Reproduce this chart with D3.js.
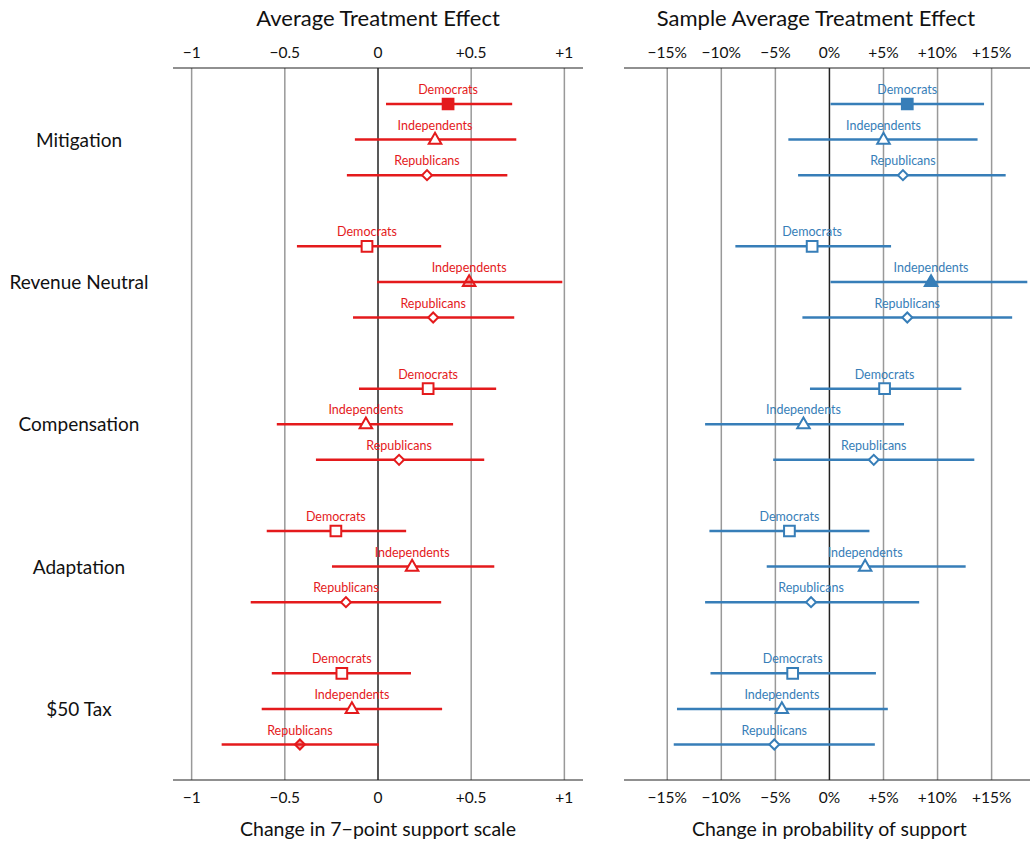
<!DOCTYPE html>
<html>
<head>
<meta charset="utf-8">
<script src="https://cdn.jsdelivr.net/npm/d3@7"></script>
<style>
  body { margin: 0; background: #fff; }
  text { font-family: Lato, "Open Sans", sans-serif; }
</style>
</head>
<body>
<svg id="chart" width="1035" height="843"></svg>
<script>
// Treatments (top to bottom) and party groups within each
const treatments = ["Mitigation", "Revenue Neutral", "Compensation", "Adaptation", "$50 Tax"];
const parties = ["Democrats", "Independents", "Republicans"];

// Left panel: ATE on 7-point support scale (rows: treatment x party)
const ateEst = [0.376, 0.306, 0.263, -0.059, 0.489, 0.296, 0.269, -0.065, 0.113, -0.226, 0.183, -0.172, -0.194, -0.140, -0.419];
const ateLo  = [0.043, -0.124, -0.167, -0.435, -0.005, -0.134, -0.102, -0.543, -0.333, -0.597, -0.247, -0.683, -0.570, -0.624, -0.839];
const ateHi  = [0.720, 0.742, 0.694, 0.339, 0.989, 0.731, 0.634, 0.403, 0.570, 0.151, 0.624, 0.339, 0.177, 0.344, 0.005];
const ateFill = ["solid", "none", "none", "none", "light", "none", "none", "none", "none", "none", "none", "none", "none", "none", "light"];

// Right panel: SATE on probability of support
const sateEst = [0.072, 0.050, 0.068, -0.016, 0.094, 0.072, 0.051, -0.024, 0.041, -0.037, 0.033, -0.017, -0.034, -0.044, -0.051];
const sateLo  = [0.001, -0.038, -0.029, -0.087, 0.001, -0.025, -0.018, -0.115, -0.052, -0.111, -0.058, -0.115, -0.110, -0.141, -0.144];
const sateHi  = [0.143, 0.137, 0.163, 0.057, 0.183, 0.169, 0.122, 0.069, 0.134, 0.037, 0.126, 0.083, 0.043, 0.054, 0.042];
const sateFill = ["solid", "none", "none", "none", "solid", "none", "none", "none", "none", "none", "none", "none", "none", "none", "none"];

const ateTicks = [-1, -0.5, 0, 0.5, 1];
const ateTickLabels = ["\u22121", "\u22120.5", "0", "+0.5", "+1"];
const sateTicks = [-0.15, -0.10, -0.05, 0, 0.05, 0.10, 0.15];
const sateTickLabels = ["\u221215%", "\u221210%", "\u22125%", "0%", "+5%", "+10%", "+15%"];

const svg = d3.select("#chart");
const yTop = 68, yBottom = 780;

// y position: group g, party p -> g*4 + p
const yScale = d3.scaleLinear().domain([0, 18]).range([104, 744.5]);

const rows = [];
treatments.forEach((t, g) => parties.forEach((p, k) => rows.push({ g, k, party: p, idx: g * 3 + k, pos: g * 4 + k })));

const shapes = [d3.symbolSquare, d3.symbolTriangle, d3.symbolSquare];
const sizes = [115, 68, 50];

function panel(cfg) {
  const x = d3.scaleLinear().domain(cfg.domain).range(cfg.range);
  const g = svg.append("g");
  const light = d3.color(cfg.color).copy({ opacity: 0.4 });

  // title
  g.append("text").attr("x", cfg.titleX).attr("y", 26).attr("text-anchor", "middle")
    .attr("font-size", 22).attr("fill", "#111").text(cfg.title);

  // grid lines
  g.selectAll(".grid").data(cfg.ticks).enter().append("line")
    .attr("x1", d => x(d)).attr("x2", d => x(d))
    .attr("y1", yTop).attr("y2", yBottom)
    .attr("stroke", d => d === 0 ? "#222" : "#999")
    .attr("stroke-width", 1.5);

  // axis lines
  [yTop, yBottom].forEach(yy => g.append("line")
    .attr("x1", cfg.range[0]).attr("x2", cfg.range[1])
    .attr("y1", yy).attr("y2", yy).attr("stroke", "#222").attr("stroke-width", 1.2));

  // tick labels
  g.selectAll(".tt").data(cfg.ticks).enter().append("text")
    .attr("x", d => x(d)).attr("y", 58).attr("text-anchor", "middle")
    .attr("font-size", 15.5).attr("fill", "#111").text((d, i) => cfg.tickLabels[i]);
  g.selectAll(".tb").data(cfg.ticks).enter().append("text")
    .attr("x", d => x(d)).attr("y", 803).attr("text-anchor", "middle")
    .attr("font-size", 15.5).attr("fill", "#111").text((d, i) => cfg.tickLabels[i]);

  // x label
  g.append("text").attr("x", x(0)).attr("y", 836).attr("text-anchor", "middle")
    .attr("font-size", 19.5).attr("fill", "#111").text(cfg.xlabel);

  // CI lines
  g.selectAll(".ci").data(rows).enter().append("line")
    .attr("x1", d => x(cfg.lo[d.idx])).attr("x2", d => x(cfg.hi[d.idx]))
    .attr("y1", d => yScale(d.pos)).attr("y2", d => yScale(d.pos))
    .attr("stroke", cfg.color).attr("stroke-width", 2.5);

  // party labels
  g.selectAll(".lab").data(rows).enter().append("text")
    .attr("x", d => x(cfg.est[d.idx])).attr("y", d => yScale(d.pos) - 10)
    .attr("text-anchor", "middle").attr("font-size", 12.5)
    .attr("fill", cfg.color).text(d => d.party);

  // markers
  g.selectAll(".pt").data(rows).enter().append("path")
    .attr("d", d => d3.symbol().type(shapes[d.k]).size(sizes[d.k])())
    .attr("transform", d => `translate(${x(cfg.est[d.idx])},${yScale(d.pos) + (d.k === 1 ? 0.5 : 0)})` + (d.k === 2 ? " rotate(45)" : ""))
    .attr("fill", d => cfg.fill[d.idx] === "solid" ? cfg.color : cfg.fill[d.idx] === "light" ? light : "#fff")
    .attr("stroke", cfg.color).attr("stroke-width", 2);
}

panel({
  title: "Average Treatment Effect", xlabel: "Change in 7\u2212point support scale",
  domain: [-1.1, 1.1], range: [173, 583], color: "#e41a1c", titleX: 378,
  ticks: ateTicks, tickLabels: ateTickLabels,
  est: ateEst, lo: ateLo, hi: ateHi, fill: ateFill
});

panel({
  title: "Sample Average Treatment Effect", xlabel: "Change in probability of support",
  domain: [-0.19, 0.1855], range: [624, 1030], color: "#377eb8", titleX: 816,
  ticks: sateTicks, tickLabels: sateTickLabels,
  est: sateEst, lo: sateLo, hi: sateHi, fill: sateFill
});

// treatment labels
svg.selectAll(".treat").data(treatments).enter().append("text")
  .attr("x", 79).attr("y", (d, i) => yScale(i * 4 + 1) + 7)
  .attr("text-anchor", "middle").attr("font-size", 19).attr("fill", "#111")
  .text(d => d);
</script>
</body>
</html>
